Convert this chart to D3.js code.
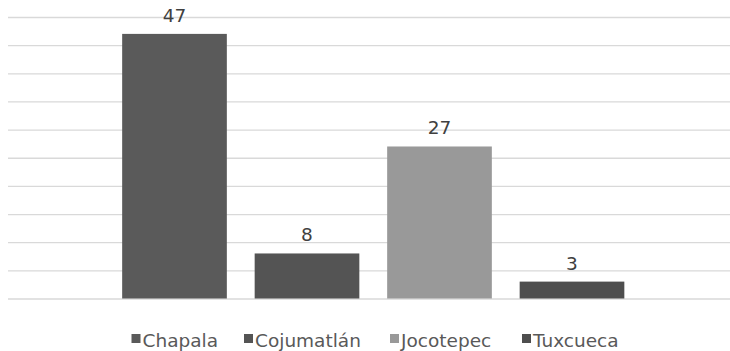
<!DOCTYPE html>
<html>
<head>
<meta charset="utf-8">
<script src="https://cdn.jsdelivr.net/npm/d3@7"></script>
<style>
  html, body { margin: 0; padding: 0; background: #ffffff; }
  svg { display: block; }
</style>
</head>
<body>
<svg id="chart" width="730" height="351"></svg>
<script>
// Municipalities (one series each) and their counts
const series = ["Chapala", "Cojumatlán", "Jocotepec", "Tuxcueca"];
const values = [47, 8, 27, 3];
const colors = ["#5a5a5a", "#545454", "#999999", "#4e4e4e"];
const yTicks = [0, 5, 10, 15, 20, 25, 30, 35, 40, 45, 50];

const svg = d3.select("#chart");
const font = "'DejaVu Sans', sans-serif";

const plot = { left: 8, right: 730, top: 17, bottom: 298.5 };

const y = d3.scaleLinear().domain([0, 50]).range([plot.bottom, plot.top]);

const x = d3.scaleBand()
  .domain(series)
  .range([108.25, 638.25])
  .paddingInner(0.21)
  .paddingOuter(0.105);

// Horizontal gridlines
const grid = d3.axisLeft(y)
  .tickValues(yTicks)
  .tickSize(-(plot.right - plot.left))
  .tickFormat("");
svg.append("g")
  .attr("transform", `translate(${plot.left},0)`)
  .call(grid)
  .call(g => g.select(".domain").remove())
  .call(g => g.selectAll(".tick line")
    .attr("stroke", "#d9d9d9")
    .attr("stroke-width", 1.3));

// Bars
svg.append("g")
  .selectAll("rect")
  .data(series)
  .join("rect")
  .attr("x", d => x(d))
  .attr("width", x.bandwidth())
  .attr("y", (d, i) => y(values[i]))
  .attr("height", (d, i) => y(0) - y(values[i]))
  .attr("fill", (d, i) => colors[i]);

// Value labels
svg.append("g")
  .selectAll("text")
  .data(series)
  .join("text")
  .attr("x", d => x(d) + x.bandwidth() / 2)
  .attr("y", (d, i) => y(values[i]) - 12)
  .attr("text-anchor", "middle")
  .attr("font-family", font)
  .attr("font-size", 18.5)
  .attr("fill", "#404040")
  .text((d, i) => values[i]);

// Legend
const legendX = [131.5, 244, 390, 522];
const legend = svg.append("g");
series.forEach((s, i) => {
  const g = legend.append("g").attr("transform", `translate(${legendX[i]},0)`);
  g.append("rect")
    .attr("x", 0).attr("y", 334)
    .attr("width", 9).attr("height", 9)
    .attr("fill", colors[i]);
  g.append("text")
    .attr("x", 11).attr("y", 346.5)
    .attr("font-family", font)
    .attr("font-size", 18.5)
    .attr("fill", "#595959")
    .text(s);
});
</script>
</body>
</html>
